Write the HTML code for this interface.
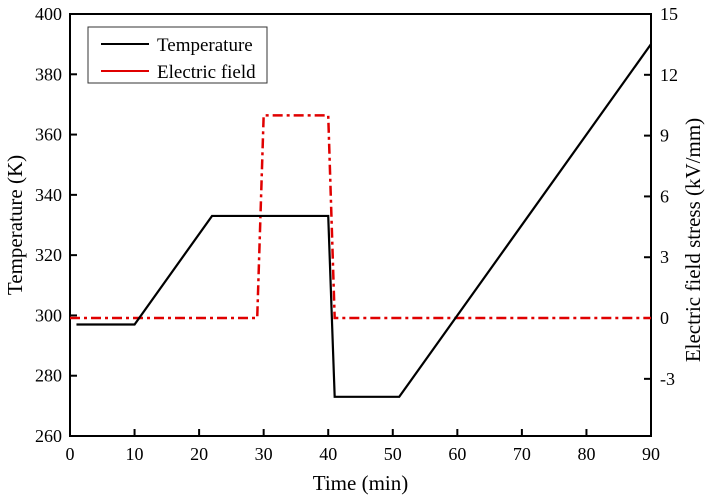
<!DOCTYPE html>
<html><head><meta charset="utf-8"><style>
body{margin:0;background:#fff}
text{font-family:"Liberation Serif",serif;fill:#000}
</style></head><body>
<svg id="c" width="711" height="498">
<g id="g"></g>
</svg>
<script>
const timeT=[1,10,22,40,41,51,90];
const tempT=[297,297,333,333,273,273,390];
const timeE=[0,29,30,40,41,90];
const fieldE=[0,0,10,10,0,0];
const xTicks=[0,10,20,30,40,50,60,70,80,90];
const yTicks=[260,280,300,320,340,360,380,400];
const y2Ticks=[-3,0,3,6,9,12,15];
const L=70,R=651,T=14,B=436;
const X=v=>L+(v-0)/(90-0)*(R-L);
const Y=v=>B-(v-260)/(400-260)*(B-T);
const Y2=v=>B-(v-(-5.82))/(15-(-5.82))*(B-T);
const ns='http://www.w3.org/2000/svg';
const g=document.getElementById('g');
function mk(t,a,txt){const e=document.createElementNS(ns,t);for(const k in a)e.setAttribute(k,a[k]);if(txt!==undefined)e.textContent=txt;g.appendChild(e);return e;}
let e;
e=mk('rect',{x:L,y:T,width:R-L,height:B-T,fill:'none',stroke:'#000','stroke-width':2});


xTicks.forEach(v=>{
 e=mk('line',{x1:X(v),x2:X(v),y1:B,y2:B-7,stroke:'#000','stroke-width':2});
 
 
 e=mk('text',{x:X(v),y:B+24,'text-anchor':'middle','font-size':18},v);
 
 
});
yTicks.forEach(v=>{
 e=mk('line',{x1:L,x2:L+7,y1:Y(v),y2:Y(v),stroke:'#000','stroke-width':2});
 
 
 e=mk('text',{x:L-8,y:Y(v)+6,'text-anchor':'end','font-size':18},v);
 
 
});
y2Ticks.forEach(v=>{
 e=mk('line',{x1:R,x2:R-7,y1:Y2(v),y2:Y2(v),stroke:'#000','stroke-width':2});
 
 
 e=mk('text',{x:R+9,y:Y2(v)+6,'text-anchor':'start','font-size':18},v);
 
 
});
e=mk('text',{x:(L+R)/2,y:490,'text-anchor':'middle','font-size':21},'Time (min)');


e=mk('text',{x:0,y:0,'text-anchor':'middle','font-size':21,transform:`translate(22,${(T+B)/2}) rotate(-90)`},'Temperature (K)');


e=mk('text',{x:0,y:0,'text-anchor':'middle','font-size':21,transform:`translate(700,${(T+B)/2+15}) rotate(-90)`},'Electric field stress (kV/mm)');


e=mk('polyline',{points:timeE.map((t,i)=>X(t)+','+Y2(fieldE[i])).join(' '),fill:'none',stroke:'#e00000','stroke-width':2.5,'stroke-dasharray':'10 4 3 4'});


e=mk('polyline',{points:timeT.map((t,i)=>X(t)+','+Y(tempT[i])).join(' '),fill:'none',stroke:'#000','stroke-width':2.2});


e=mk('rect',{x:88,y:27,width:179,height:56,fill:'#fff',stroke:'#333','stroke-width':1});


e=mk('line',{x1:101,x2:149,y1:44,y2:44,stroke:'#000','stroke-width':2});


e=mk('text',{x:157,y:51,'font-size':19},'Temperature');


e=mk('line',{x1:101,x2:149,y1:71,y2:71,stroke:'#e00000','stroke-width':2});


e=mk('text',{x:157,y:78,'font-size':19},'Electric field');


</script>
</body></html>
